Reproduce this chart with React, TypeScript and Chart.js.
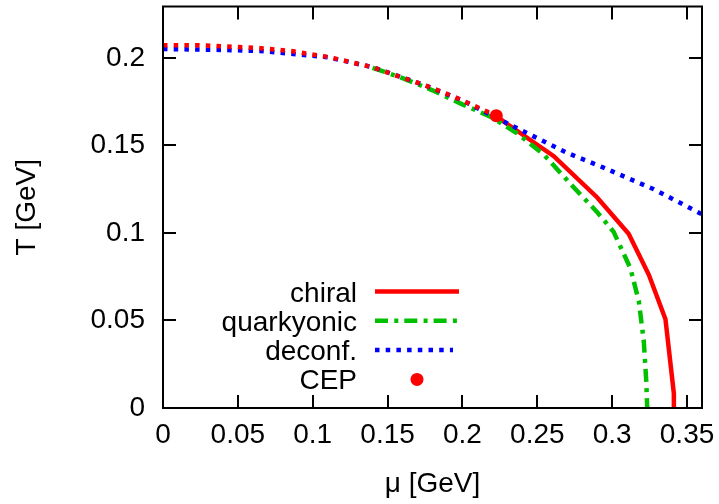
import React, { useEffect, useRef } from 'react';
import { Chart, registerables } from 'chart.js';

Chart.register(...registerables);

// ---- data (GeV) ----
const crossMu = [0, 0.0225, 0.043, 0.065, 0.087, 0.11, 0.12, 0.14, 0.154, 0.174, 0.194, 0.2226];
const crossT = [0.2073, 0.2073, 0.2066, 0.2056, 0.2038, 0.2006, 0.1987, 0.1947, 0.1904, 0.1847, 0.178, 0.167];

const chiralMu = [0.2226, 0.2275, 0.261, 0.29, 0.311, 0.3245, 0.3356, 0.3412, 0.3412];
const chiralT = [0.167, 0.1637, 0.1439, 0.1203, 0.0996, 0.0761, 0.0507, 0.0083, 0];

const quarkMu = [0.14, 0.16, 0.18, 0.2, 0.2186, 0.2365, 0.2543, 0.2744, 0.29, 0.301, 0.3122, 0.3178, 0.3211, 0.3228, 0.3234];
const quarkT = [0.1944, 0.1885, 0.1815, 0.1735, 0.1665, 0.157, 0.1448, 0.126, 0.1119, 0.1006, 0.0798, 0.061, 0.0384, 0.015, 0];

const deconfMu = [0, 0.04, 0.065, 0.087, 0.11, 0.14, 0.174, 0.2, 0.2298, 0.2476, 0.2699, 0.2943, 0.3278, 0.36];
const deconfT = [0.2051, 0.2046, 0.204, 0.2023, 0.2004, 0.1947, 0.1847, 0.1757, 0.1627, 0.1552, 0.1458, 0.1373, 0.125, 0.1107];

const cepMu = [0.2226];
const cepT = [0.167];

const xTicks = [0, 0.05, 0.1, 0.15, 0.2, 0.25, 0.3, 0.35];
const xTickLabels = ['0', '0.05', '0.1', '0.15', '0.2', '0.25', '0.3', '0.35'];
const yTicks = [0, 0.05, 0.1, 0.15, 0.2];
const yTickLabels = ['0', '0.05', '0.1', '0.15', '0.2'];

const legendLabels = ['chiral', 'quarkyonic', 'deconf.', 'CEP'];

const RED = '#ff0000';
const GREEN = '#00c000';
const BLUE = '#0000ff';
const FONT = '"Liberation Sans", Arial, Helvetica, sans-serif';
const LW = 4.5;
const DOTS = [4.5, 6.2];
const DASHDOT = [13, 6.3, 4, 6];

const zip = (xs: number[], ys: number[]) => xs.map((x, i) => ({ x, y: ys[i] }));

const framePlugin = {
  id: 'frameTicksLegend',
  afterDatasetsDraw(chart: any) {
    const { ctx, chartArea: a, scales } = chart;
    const x = scales.x;
    const y = scales.y;
    ctx.save();
    ctx.strokeStyle = '#000';
    ctx.lineWidth = 2;
    ctx.lineCap = 'butt';
    ctx.setLineDash([]);
    ctx.beginPath();
    const tl = 13;
    for (const v of xTicks) {
      const px = Math.round(x.getPixelForValue(v));
      ctx.moveTo(px, a.bottom);
      ctx.lineTo(px, a.bottom - tl);
      ctx.moveTo(px, a.top);
      ctx.lineTo(px, a.top + tl);
    }
    for (const v of yTicks) {
      const py = Math.round(y.getPixelForValue(v));
      ctx.moveTo(a.left, py);
      ctx.lineTo(a.left + tl, py);
      ctx.moveTo(a.right, py);
      ctx.lineTo(a.right - tl, py);
    }
    ctx.stroke();
    ctx.strokeRect(a.left, a.top, a.right - a.left, a.bottom - a.top);

    // legend (gnuplot style: text right-aligned, sample to the right)
    const textX = a.left + 194;
    const s0 = a.left + 212;
    const s1 = a.left + 296;
    const baseY = a.bottom - 106.5;
    const dy = 29.3;
    ctx.font = '28px ' + FONT;
    ctx.fillStyle = '#000';
    ctx.textAlign = 'right';
    ctx.textBaseline = 'alphabetic';
    legendLabels.forEach((t, i) => {
      ctx.fillText(t, textX, baseY + i * dy);
    });
    ctx.lineWidth = LW;
    // chiral
    let ly = baseY - 10;
    ctx.strokeStyle = RED;
    ctx.setLineDash([]);
    ctx.beginPath(); ctx.moveTo(s0, ly); ctx.lineTo(s1, ly); ctx.stroke();
    // quarkyonic
    ly = baseY + dy - 10;
    ctx.strokeStyle = GREEN;
    ctx.setLineDash(DASHDOT);
    ctx.beginPath(); ctx.moveTo(s0, ly); ctx.lineTo(s1 - 2, ly); ctx.stroke();
    // deconf
    ly = baseY + 2 * dy - 10;
    ctx.strokeStyle = BLUE;
    ctx.setLineDash(DOTS);
    ctx.beginPath(); ctx.moveTo(s0, ly); ctx.lineTo(s1 - 6, ly); ctx.stroke();
    // CEP
    ly = baseY + 3 * dy - 10;
    ctx.setLineDash([]);
    ctx.fillStyle = RED;
    ctx.beginPath(); ctx.arc((s0 + s1) / 2, ly, 6.5, 0, Math.PI * 2); ctx.fill();
    ctx.restore();
  },
};

export default function App() {
  const ref = useRef<HTMLCanvasElement | null>(null);
  useEffect(() => {
    if (!ref.current) return;
    const chart = new Chart(ref.current, {
      type: 'scatter',
      data: {
        datasets: [
          {
            label: 'CEP',
            data: zip(cepMu, cepT),
            backgroundColor: RED,
            borderColor: RED,
            pointRadius: 6.5,
            pointBorderWidth: 0,
            showLine: false,
            order: 0,
          } as any,
          {
            label: 'crossover',
            data: zip(crossMu, crossT),
            showLine: true,
            borderColor: RED,
            borderWidth: LW,
            borderDash: DOTS,
            borderCapStyle: 'butt',
            pointRadius: 0,
            tension: 0,
            fill: false,
            order: 1,
          },
          {
            label: 'deconf.',
            data: zip(deconfMu, deconfT),
            showLine: true,
            borderColor: BLUE,
            borderWidth: LW,
            borderDash: DOTS,
            borderCapStyle: 'butt',
            pointRadius: 0,
            tension: 0,
            fill: false,
            order: 2,
          },
          {
            label: 'quarkyonic',
            data: zip(quarkMu, quarkT),
            showLine: true,
            borderColor: GREEN,
            borderWidth: LW,
            borderDash: DASHDOT,
            borderCapStyle: 'butt',
            pointRadius: 0,
            tension: 0,
            fill: false,
            order: 3,
          },
          {
            label: 'chiral',
            data: zip(chiralMu, chiralT),
            showLine: true,
            borderColor: RED,
            borderWidth: LW,
            pointRadius: 0,
            tension: 0,
            fill: false,
            order: 4,
          },
        ],
      },
      options: {
        animation: false,
        responsive: false,
        devicePixelRatio: 1,
        layout: { padding: { top: 2, right: 17, left: 0, bottom: 0 } },
        plugins: { legend: { display: false }, tooltip: { enabled: false } },
        scales: {
          x: {
            type: 'linear',
            min: 0,
            max: 0.36,
            grid: { display: false, drawTicks: false },
            border: { display: false },
            afterBuildTicks: (s: any) => {
              s.ticks = xTicks.map((v) => ({ value: v }));
            },
            afterFit: (s: any) => {
              s.height = 96;
              s.paddingLeft = 0;
              s.paddingRight = 0;
              s.paddingTop = 0;
              s.paddingBottom = 0;
            },
            ticks: {
              padding: 10,
              color: '#000',
              font: { family: FONT, size: 28 },
              maxRotation: 0,
              autoSkip: false,
              callback: (v: any) => {
                const i = xTicks.findIndex((t) => Math.abs(t - Number(v)) < 1e-9);
                return i >= 0 ? xTickLabels[i] : '';
              },
            },
            title: {
              display: true,
              text: 'μ [GeV]',
              color: '#000',
              font: { family: FONT, size: 28 },
              padding: { top: 0, bottom: 3 },
            },
          },
          y: {
            type: 'linear',
            min: 0,
            max: 0.2294,
            grid: { display: false, drawTicks: false },
            border: { display: false },
            afterBuildTicks: (s: any) => {
              s.ticks = yTicks.map((v) => ({ value: v }));
            },
            afterFit: (s: any) => {
              s.width = 163;
              s.paddingLeft = 0;
              s.paddingRight = 0;
              s.paddingTop = 0;
              s.paddingBottom = 0;
            },
            ticks: {
              padding: 18,
              color: '#000',
              font: { family: FONT, size: 28 },
              autoSkip: false,
              callback: (v: any) => {
                const i = yTicks.findIndex((t) => Math.abs(t - Number(v)) < 1e-9);
                return i >= 0 ? yTickLabels[i] : '';
              },
            },
            title: {
              display: true,
              text: 'T [GeV]',
              color: '#000',
              font: { family: FONT, size: 28 },
              padding: { top: 10, bottom: 0 },
            },
          },
        },
      },
      plugins: [framePlugin],
    } as any);
    return () => chart.destroy();
  }, []);
  return (
    <div style={{ position: 'fixed', left: 0, top: 0, width: 719, height: 504, background: '#fff' }}>
      <canvas ref={ref} width={719} height={504} style={{ width: 719, height: 504, display: 'block' }} />
    </div>
  );
}
